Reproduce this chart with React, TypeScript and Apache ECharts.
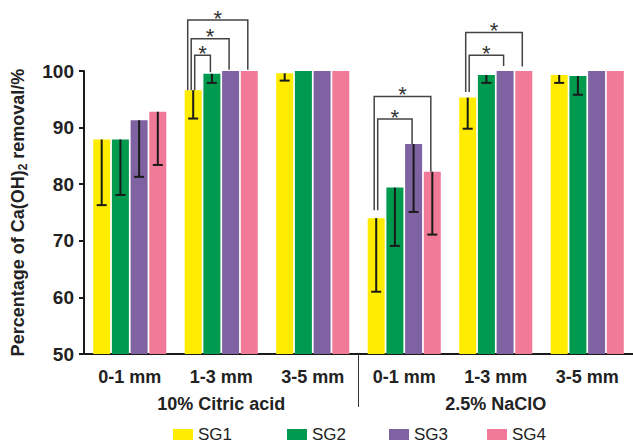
import React, { useEffect, useRef } from "react";
import * as echarts from "echarts";

const categories = ["0-1 mm", "1-3 mm", "3-5 mm", "0-1 mm", "1-3 mm", "3-5 mm"];
const groupLabels = ["10% Citric acid", "2.5% NaClO"];
const seriesNames = ["SG1", "SG2", "SG3", "SG4"];
const sg1 = [87.9, 96.6, 99.6, 74.0, 95.3, 99.3];
const sg2 = [87.9, 99.5, 100, 79.4, 99.3, 99.1];
const sg3 = [91.3, 100, 100, 87.1, 100, 100];
const sg4 = [92.8, 100, 100, 82.2, 100, 100];
// lower ends of the error bars (null = no error bar)
const sg1Low = [76.3, 91.6, 98.3, 61.0, 89.8, 97.9];
const sg2Low = [78.1, 97.9, null, 69.1, 97.9, 95.8];
const sg3Low = [81.3, null, null, 75.1, null, null];
const sg4Low = [83.4, null, null, 71.1, null, null];
// significance brackets: [category, fromSeries, toSeries, level, leftEnd, rightEnd]
const brackets = [
  [1, 0, 1, 102.8, 96.6, 99.8],
  [1, 0, 2, 105.7, 96.6, 100.2],
  [1, 0, 3, 109.0, 96.6, 100.2],
  [3, 0, 2, 91.5, 75.4, 87.1],
  [3, 0, 3, 95.5, 75.4, 82.2],
  [4, 0, 2, 102.8, 96.3, 100.9],
  [4, 0, 3, 106.8, 96.3, 100.8],
];

const colors = ["#FFEC00", "#009A4E", "#7E62A1", "#F07A97"];
const BAR_W = 17;
const BAR_GAP = 1.7;
const legendLefts = [173, 287, 389, 487];

function barOffset(s: number) {
  const total = 4 * BAR_W + 3 * BAR_GAP;
  return -total / 2 + BAR_W / 2 + s * (BAR_W + BAR_GAP);
}

export default function App() {
  const ref = useRef<HTMLDivElement>(null);
  useEffect(() => {
    if (!ref.current) return;
    const chart = echarts.init(ref.current, null, { renderer: "svg" });
    const values = [sg1, sg2, sg3, sg4];
    const lows = [sg1Low, sg2Low, sg3Low, sg4Low];
    const errData: number[][] = [];
    lows.forEach((arr, s) =>
      arr.forEach((lo, c) => {
        if (lo != null) errData.push([c, s, values[s][c], lo]);
      })
    );
    const bracketData = brackets.map((b) => {
      const k = brackets.filter((o) => o[0] === b[0] && o[3] < b[3]).length;
      return [...b, k];
    });
    const axisColor = "#1a1a1a";
    chart.setOption({
      animation: false,
      backgroundColor: "#ffffff",
      grid: { left: 84, right: -3, top: 71, bottom: 89 },
      legend: seriesNames.map((n, i) => ({
        data: [{ name: n, textStyle: { fontSize: 17, color: "#222" } }],
        left: legendLefts[i],
        top: 426,
        padding: 0,
        itemWidth: 20,
        itemHeight: 11,
        icon: "rect",
        selectedMode: false,
        textStyle: { fontSize: 17, color: "#222", fontFamily: "Liberation Sans" },
      })),
      xAxis: [
        {
          type: "category",
          data: categories,
          axisLine: { lineStyle: { color: axisColor, width: 2 }, onZero: false },
          axisTick: { alignWithLabel: true, length: 5, lineStyle: { color: axisColor, width: 2 } },
          axisLabel: {
            fontSize: 18,
            fontWeight: "bold",
            color: "#222",
            fontFamily: "Liberation Sans",
            margin: 14,
          },
        },
        {
          type: "value",
          min: 0,
          max: 6,
          position: "bottom",
          axisLine: { show: false, onZero: false },
          splitLine: { show: false },
          axisTick: { show: true, customValues: [3], length: 53, lineStyle: { color: "#333", width: 1 } },
          axisLabel: {
            customValues: [1.5, 4.5],
            formatter: (v: number) => (v < 3 ? groupLabels[0] : groupLabels[1]),
            fontSize: 18,
            fontWeight: "bold",
            color: "#222",
            fontFamily: "Liberation Sans",
            margin: 41,
          },
        },
      ],
      yAxis: {
        type: "value",
        min: 50,
        max: 100,
        interval: 10,
        name: "Percentage of Ca(OH){sub|2} removal/%",
        nameLocation: "middle",
        nameGap: 55,
        nameTextStyle: {
          fontSize: 18,
          fontWeight: "bold",
          color: "#222",
          fontFamily: "Liberation Sans",
          rich: {
            sub: { fontSize: 12, fontWeight: "bold", color: "#222", fontFamily: "Liberation Sans", padding: [10, 0, 0, 0] },
          },
        },
        axisLine: { show: true, onZero: false, lineStyle: { color: axisColor, width: 2 } },
        axisTick: { show: true, length: 5, lineStyle: { color: axisColor, width: 2 } },
        splitLine: { show: false },
        axisLabel: { fontSize: 19, fontWeight: "bold", color: "#222", fontFamily: "Liberation Sans", margin: 10 },
      },
      series: [
        ...seriesNames.map((n, i) => ({
          name: n,
          type: "bar",
          data: values[i],
          barWidth: BAR_W,
          barGap: "10%",
          itemStyle: { color: colors[i] },
        })),
        {
          type: "custom",
          name: "err",
          data: errData,
          z: 5,
          renderItem: (params: any, api: any) => {
            const c = api.value(0);
            const s = api.value(1);
            const top = api.coord([c, api.value(2)]);
            const low = api.coord([c, api.value(3)]);
            const x = top[0] + barOffset(s);
            const st = { stroke: "#1a1a1a", lineWidth: 2 };
            return {
              type: "group",
              children: [
                { type: "line", shape: { x1: x, y1: top[1], x2: x, y2: low[1] }, style: st },
                { type: "line", shape: { x1: x - 5, y1: low[1], x2: x + 5, y2: low[1] }, style: st },
              ],
            };
          },
        },
        {
          type: "custom",
          name: "sig",
          data: bracketData,
          clip: false,
          z: 6,
          renderItem: (params: any, api: any) => {
            const c = api.value(0);
            const from = api.value(1);
            const to = api.value(2);
            const k = api.value(6);
            const lvl = api.coord([c, api.value(3)]);
            const le = api.coord([c, api.value(4)]);
            const re = api.coord([c, api.value(5)]);
            const xl = lvl[0] + barOffset(from) + 1.5 - 3.5 * k;
            const xr = lvl[0] + barOffset(to) - 1.5;
            const yt = lvl[1];
            return {
              type: "group",
              children: [
                {
                  type: "polyline",
                  shape: { points: [[xl, le[1]], [xl, yt], [xr, yt], [xr, re[1]]] },
                  style: { stroke: "#444", lineWidth: 1.5, fill: "none" },
                },
                {
                  type: "text",
                  x: (xl + xr) / 2,
                  y: yt - 13,
                  style: { text: "*", fontSize: 22, fill: "#333", align: "center", verticalAlign: "top", fontFamily: "Liberation Sans" },
                },
              ],
            };
          },
        },
      ],
    });
    return () => chart.dispose();
  }, []);
  return <div ref={ref} style={{ width: 633, height: 443, position: "absolute", left: 0, top: 0 }} />;
}
